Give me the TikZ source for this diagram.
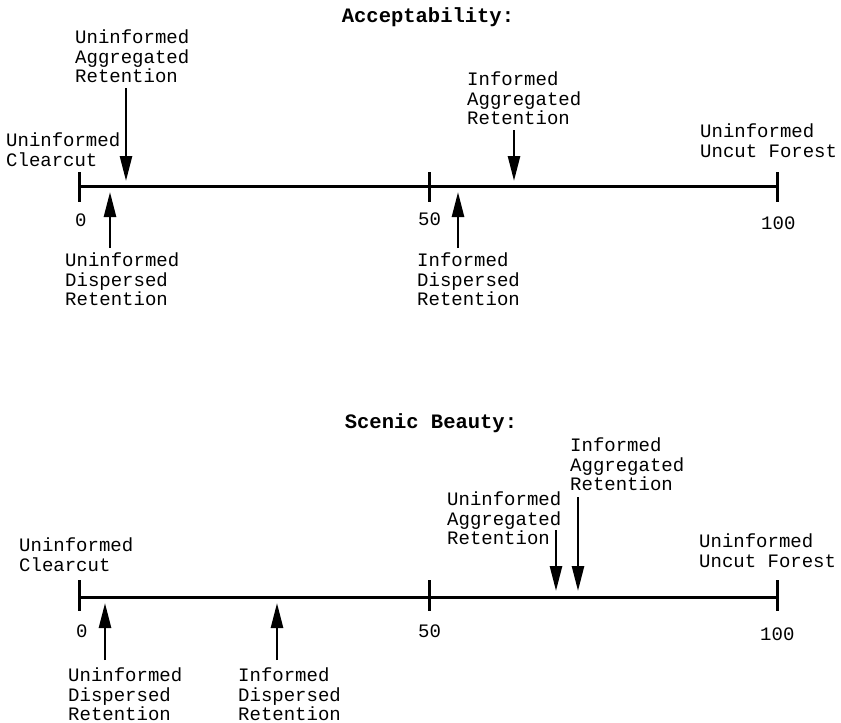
\documentclass[tikz,border=0pt]{standalone}
\usepackage{fontspec}
\newfontfamily\courfont{Liberation Mono}
\usetikzlibrary{arrows.meta}
\begin{document}
\begin{tikzpicture}[x=1pt,y=-1pt,
  lbl/.style={anchor=north west,inner sep=0pt,align=left,font=\courfont\fontsize{19}{19.3}\selectfont},
  num/.style={anchor=north west,inner sep=0pt,font=\courfont\fontsize{19}{19}\selectfont},
  ttl/.style={inner sep=0pt,font=\courfont\bfseries\fontsize{20.5}{20.5}\selectfont},
  axis/.style={line width=3pt},
  tick/.style={line width=3pt},
  arr/.style={line width=2.6pt,-{Triangle[length=25pt,width=12pt]}}]
\useasboundingbox (0,0) rectangle (841,723);
% ---------- Acceptability ----------
\node[ttl] (T1) at (428,17) {Acceptability:};
\coordinate (A0) at (79,186);
\coordinate (A50) at (429,186);
\coordinate (A100) at (777,186);
\draw[axis] (A0) -- (A100);
\draw[tick] (79,172) -- (79,202);
\draw[tick] (429,172) -- (429,202);
\draw[tick] (777,172) -- (777,202);
\node[num] (A0n) at (75,214) {0};
\node[num] (A50n) at (418,213) {50};
\node[num] (A100n) at (761,217) {100};
\node[lbl] (Aclear) at (6,133) {Uninformed\\Clearcut};
\node[lbl] (Auar) at (75,30) {Uninformed\\Aggregated\\Retention};
\node[lbl] (Auds) at (65,253) {Uninformed\\Dispersed\\Retention};
\node[lbl] (Aids) at (417,253) {Informed\\Dispersed\\Retention};
\node[lbl] (Aiar) at (467,72) {Informed\\Aggregated\\Retention};
\node[lbl] (Auf) at (700,124) {Uninformed\\Uncut Forest};
\coordinate (a1s) at (126,88);  \coordinate (a1e) at (126,181);
\coordinate (a2s) at (110,248); \coordinate (a2e) at (110,192);
\coordinate (a3s) at (458,248); \coordinate (a3e) at (458,192);
\coordinate (a4s) at (514,130); \coordinate (a4e) at (514,181);
\draw[arr] (a1s) -- (a1e);
\draw[arr] (a2s) -- (a2e);
\draw[arr] (a3s) -- (a3e);
\draw[arr] (a4s) -- (a4e);
% ---------- Scenic Beauty ----------
\node[ttl] (T2) at (431,423) {Scenic Beauty:};
\coordinate (B0) at (79,597);
\coordinate (B50) at (429,597);
\coordinate (B100) at (777,597);
\draw[axis] (B0) -- (B100);
\draw[tick] (79,580) -- (79,611);
\draw[tick] (429,580) -- (429,611);
\draw[tick] (777,580) -- (777,611);
\node[num] (B0n) at (76,625) {0};
\node[num] (B50n) at (418,625) {50};
\node[num] (B100n) at (760,628) {100};
\node[lbl] (Bclear) at (19,538) {Uninformed\\Clearcut};
\node[lbl] (Buds) at (68,668) {Uninformed\\Dispersed\\Retention};
\node[lbl] (Bids) at (238,668) {Informed\\Dispersed\\Retention};
\node[lbl] (Buar) at (447,492) {Uninformed\\Aggregated\\Retention};
\node[lbl] (Biar) at (570,438) {Informed\\Aggregated\\Retention};
\node[lbl] (Buf) at (699,534) {Uninformed\\Uncut Forest};
\coordinate (b1s) at (105,660); \coordinate (b1e) at (105,603);
\coordinate (b2s) at (277,660); \coordinate (b2e) at (277,603);
\coordinate (b3s) at (556,530); \coordinate (b3e) at (556,591);
\coordinate (b4s) at (578,497); \coordinate (b4e) at (578,591);
\draw[arr] (b1s) -- (b1e);
\draw[arr] (b2s) -- (b2e);
\draw[arr] (b3s) -- (b3e);
\draw[arr] (b4s) -- (b4e);
\end{tikzpicture}
\end{document}
